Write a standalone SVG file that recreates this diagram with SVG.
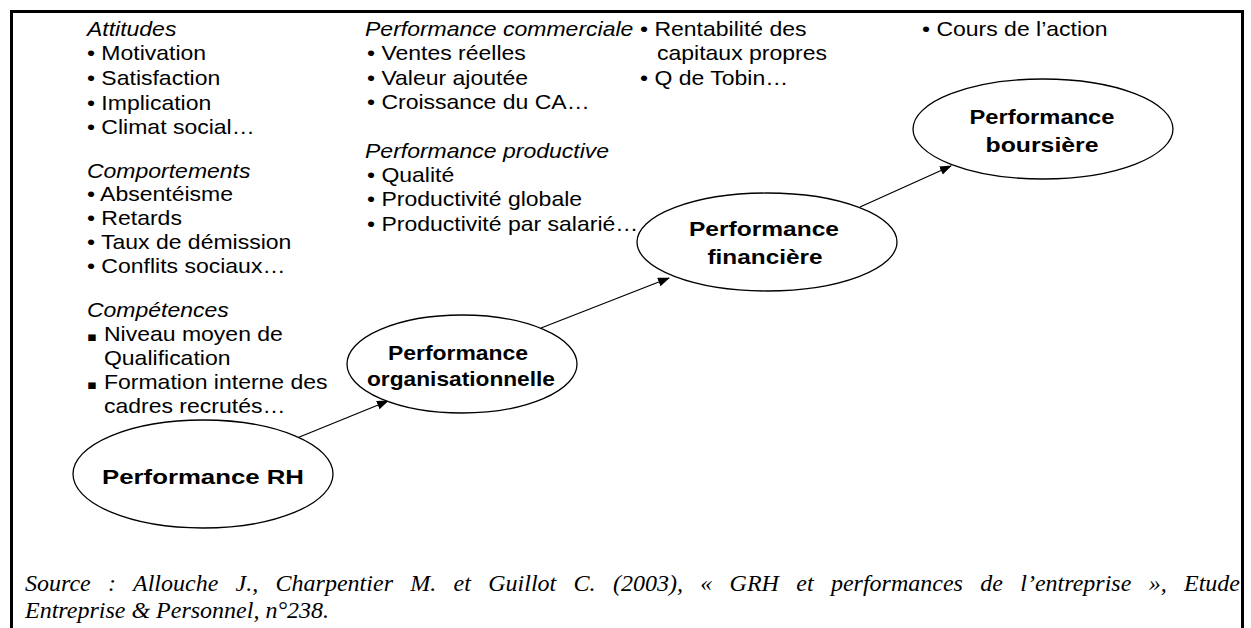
<svg xmlns="http://www.w3.org/2000/svg" width="1251" height="628" viewBox="0 0 1251 628">
<style>
.body{font-family:"Liberation Sans",Arial,sans-serif;font-size:20px;fill:#000}
.it{font-style:italic}
.lab{font-family:"Liberation Sans",Arial,sans-serif;font-size:21px;font-weight:bold;fill:#000;text-anchor:middle}
.node{fill:#fff;stroke:#000;stroke-width:1.3}
.conn{stroke:#000;stroke-width:1.3;fill:none;marker-end:url(#arr)}
.cap{font-family:"Liberation Serif","Times New Roman",serif;font-size:24px;font-style:italic;fill:#000}
</style>
<defs>
<marker id="arr" markerWidth="12" markerHeight="10" refX="11" refY="4.5" orient="auto" markerUnits="userSpaceOnUse">
<path d="M0,0 L12,4.5 L0,9 z" fill="#000"/>
</marker>
</defs>
<rect width="1251" height="628" fill="#fff"/>
<path d="M11.5,628 V11.5 H1242.5 V628" fill="none" stroke="#000" stroke-width="3"/>

<g id="indicateurs" class="body" transform="scale(1.15 1)">
<text x="75.6" y="36" class="it">Attitudes</text>
<text x="75.6" y="60">• Motivation</text>
<text x="75.6" y="85">• Satisfaction</text>
<text x="75.6" y="110">• Implication</text>
<text x="75.6" y="134">• Climat social…</text>
<text x="75.6" y="178" class="it">Comportements</text>
<text x="75.6" y="201">• Absentéisme</text>
<text x="75.6" y="225">• Retards</text>
<text x="75.6" y="249">• Taux de démission</text>
<text x="75.6" y="273">• Conflits sociaux…</text>
<text x="75.6" y="317" class="it">Compétences</text>
<text x="75.6" y="341"><tspan font-family="DejaVu Sans" font-size="13">▪</tspan><tspan x="90.4">Niveau moyen de</tspan></text>
<text x="90.4" y="365">Qualification</text>
<text x="75.6" y="389"><tspan font-family="DejaVu Sans" font-size="13">▪</tspan><tspan x="90.4">Formation interne des</tspan></text>
<text x="90.4" y="413">cadres recrutés…</text>

<text x="317.4" y="36" class="it">Performance commerciale</text>
<text x="319.1" y="60">• Ventes réelles</text>
<text x="319.1" y="85">• Valeur ajoutée</text>
<text x="319.1" y="109">• Croissance du CA…</text>
<text x="317.4" y="158" class="it">Performance productive</text>
<text x="319.1" y="182">• Qualité</text>
<text x="319.1" y="206">• Productivité globale</text>
<text x="319.1" y="231">• Productivité par salarié…</text>

<text x="556.5" y="36">• Rentabilité des</text>
<text x="571.3" y="60">capitaux propres</text>
<text x="556.5" y="85">• Q de Tobin…</text>

<text x="801.7" y="36">• Cours de l’action</text>
</g>

<g id="connecteurs">
<line class="conn" x1="297" y1="438" x2="388" y2="401"/>
<line class="conn" x1="541" y1="328" x2="669" y2="278"/>
<line class="conn" x1="860" y1="207" x2="951" y2="166"/>
</g>

<g id="perf-rh">
<ellipse class="node" cx="203" cy="474" rx="130" ry="54"/>
<text class="lab" x="203" y="484" font-size="23" textLength="202" lengthAdjust="spacingAndGlyphs">Performance RH</text>
</g>
<g id="perf-org">
<ellipse class="node" cx="462" cy="364" rx="115" ry="49"/>
<text class="lab" x="458" y="360" textLength="140" lengthAdjust="spacingAndGlyphs">Performance</text>
<text class="lab" x="461" y="386" textLength="188" lengthAdjust="spacingAndGlyphs">organisationnelle</text>
</g>
<g id="perf-fin">
<ellipse class="node" cx="767" cy="242" rx="130" ry="49"/>
<text class="lab" x="764" y="236" textLength="150" lengthAdjust="spacingAndGlyphs">Performance</text>
<text class="lab" x="765" y="264" textLength="115" lengthAdjust="spacingAndGlyphs">financière</text>
</g>
<g id="perf-bourse">
<ellipse class="node" cx="1043" cy="129" rx="130" ry="50"/>
<text class="lab" x="1042" y="124" textLength="145" lengthAdjust="spacingAndGlyphs">Performance</text>
<text class="lab" x="1042" y="152" textLength="113" lengthAdjust="spacingAndGlyphs">boursière</text>
</g>

<g id="source" class="cap">
<text x="25" y="591" word-spacing="11.3" textLength="1215" lengthAdjust="spacing">Source : Allouche J., Charpentier M. et Guillot C. (2003), « GRH et performances de l’entreprise », Etude</text>
<text x="25" y="618">Entreprise &amp; Personnel, n°238.</text>
</g>
</svg>
